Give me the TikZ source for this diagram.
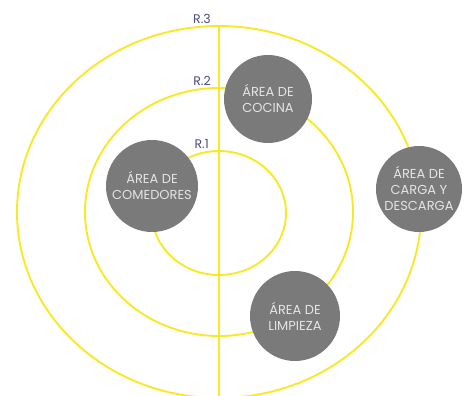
\documentclass[tikz,border=0pt]{standalone}
\usepackage{fontspec}
\setmainfont{Poppins}
\usetikzlibrary{positioning}
\definecolor{myyellow}{RGB}{248,232,40}
\definecolor{mygray}{RGB}{122,122,122}
\definecolor{mytext}{RGB}{228,228,228}
\definecolor{myslate}{RGB}{75,75,125}
\tikzset{
  ring/.style={draw=myyellow, line width=1.9pt},
  area/.style={circle, fill=mygray, text=mytext, align=center,
    font=\fontsize{13}{16}\selectfont, inner sep=0pt},
  rlabel/.style={text=myslate, font=\fontsize{12.5}{14}\selectfont,
    anchor=south east, inner sep=1pt}
}
\begin{document}
\begin{tikzpicture}[x=1pt, y=-1pt]
  \useasboundingbox (0,0) rectangle (469,396);
  % rings
  \draw[ring] (219,212) ellipse [x radius=202, y radius=186];
  \draw[ring] (219,212) ellipse [x radius=134, y radius=124];
  \draw[ring] (219,213) ellipse [x radius=67, y radius=62];
  \coordinate (top) at (219,26);
  \coordinate (bot) at (219,396);
  \draw[ring] (top) -- (bot);
  % ring labels
  \node[rlabel] (r3) at (212,25) {R.3};
  \node[rlabel] (r2) at (212,87) {R.2};
  \node[rlabel] (r1) at (210,150) {R.1};
  % areas
  \node[area, minimum size=92pt] (com) at (152,186) {ÁREA DE\\COMEDORES};
  \node[area, minimum size=88pt] (coc) at (268,99) {ÁREA DE\\COCINA};
  \node[area, minimum size=86pt] (car) at (419,189) {ÁREA DE\\CARGA Y\\DESCARGA};
  \node[area, minimum size=90pt] (lim) at (295,316) {ÁREA DE\\LIMPIEZA};
\end{tikzpicture}
\end{document}
